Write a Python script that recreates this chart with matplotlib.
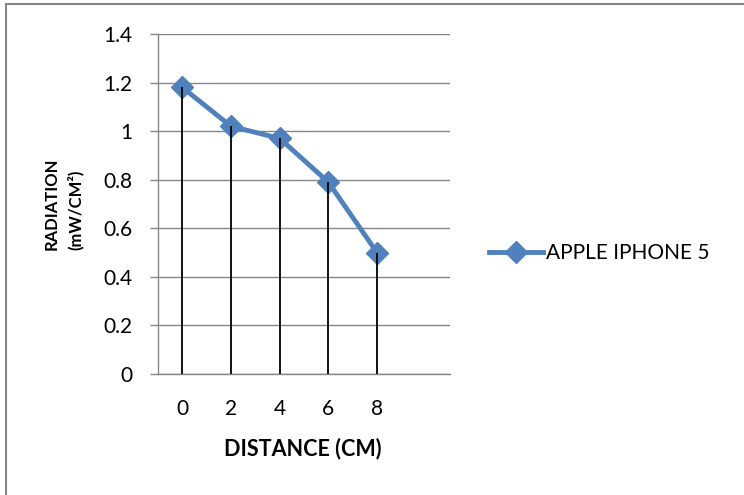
import matplotlib
matplotlib.use("Agg")
import matplotlib.pyplot as plt
from matplotlib.patches import Rectangle

categories = ["0", "2", "4", "6", "8", ""]
series_name = "APPLE IPHONE 5"
values = [1.18, 1.02, 0.97, 0.79, 0.50]
yticks = [0, 0.2, 0.4, 0.6, 0.8, 1.0, 1.2, 1.4]
ytick_labels = ["0", "0.2", "0.4", "0.6", "0.8", "1", "1.2", "1.4"]

plt.rcParams['font.family'] = ['Lato', 'DejaVu Sans']

W, H = 744, 495
fig = plt.figure(figsize=(W / 100, H / 100), dpi=100)
ax = fig.add_axes([158 / W, 1 - 374 / H, (450 - 158) / W, (374 - 34) / H])

grid_c = "#868686"
blue = "#4F81BD"
x = list(range(len(values)))

ax.plot(x, values, color=blue, lw=3.5, marker='D', markersize=11.5,
        label=series_name, zorder=3)
ax.vlines(x, 0, values, colors='black', lw=1.3, zorder=4)

ax.set_xlim(-0.5, len(categories) - 0.5)
ax.set_ylim(0, 1.4)
ax.set_xticks(range(len(categories)))
ax.set_xticklabels(categories, fontsize=15)
ax.set_yticks(yticks)
ax.set_yticklabels(ytick_labels, fontsize=15)
ax.tick_params(axis='x', length=0, pad=18)
ax.tick_params(axis='y', length=5.8, width=1, color=grid_c, pad=12.5)
ax.yaxis.grid(True, color=grid_c, lw=1)
ax.set_axisbelow(True)
for s in ['top', 'right']:
    ax.spines[s].set_visible(False)
for s in ['left', 'bottom']:
    ax.spines[s].set_color(grid_c)
    ax.spines[s].set_linewidth(1)

fig.text(303 / W, 1 - 449 / H, "DISTANCE (CM)", fontsize=15.5, fontweight='bold',
         ha='center', va='center')
fig.text(52 / W, 1 - 204 / H, "RADIATION", fontsize=12, fontweight='bold',
         rotation=90, ha='center', va='center')
fig.text(75 / W, 1 - 210 / H, "(mW/CM²)", fontsize=12, fontweight='bold',
         rotation=90, ha='center', va='center')

ax.legend(loc='center left', bbox_to_anchor=(489 / W, 1 - 253 / H),
          bbox_transform=fig.transFigure, frameon=False, fontsize=15,
          handlelength=2.6, handletextpad=0.12, borderpad=0, borderaxespad=0)

fig.patches.append(Rectangle((5.5 / W, -0.1), 1.2, (1 - 4.5 / H) + 0.1,
                             transform=fig.transFigure, fill=False,
                             edgecolor=grid_c, lw=1.5))

fig.savefig("out.png", dpi=100)
